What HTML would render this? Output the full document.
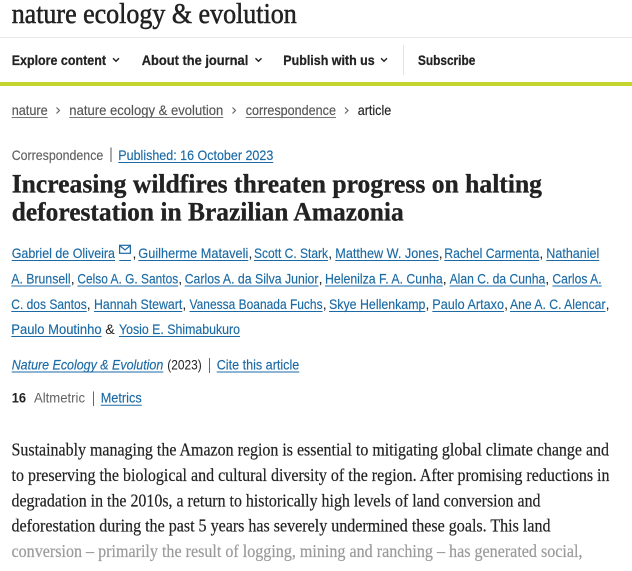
<!DOCTYPE html>
<html>
<head>
<meta charset="utf-8">
<style>
html,body{margin:0;padding:0;background:#fff;}
body{width:632px;height:571px;overflow:hidden;}
svg{display:block;}
.s{font-family:"Liberation Sans",Arial,sans-serif;}
.r{font-family:"Liberation Serif","Times New Roman",serif;}
</style>
</head>
<body>
<svg width="632" height="571" viewBox="0 0 632 571" xmlns="http://www.w3.org/2000/svg">
<rect width="632" height="571" fill="#fff"/>

<!-- Logo -->
<text class="r" x="11.7" y="23" font-size="29" fill="#222" stroke="#222" stroke-width="0.55" textLength="285" lengthAdjust="spacingAndGlyphs">nature ecology &amp; evolution</text>
<line x1="0" y1="37.5" x2="632" y2="37.5" stroke="#e9e9e9" stroke-width="1"/>

<!-- Nav -->
<g class="s" font-size="14" font-weight="bold" fill="#222" stroke="#222" stroke-width="0.25">
<text x="11.7" y="65" textLength="94.3" lengthAdjust="spacingAndGlyphs">Explore content</text>
<text x="141.7" y="65" textLength="106.6" lengthAdjust="spacingAndGlyphs">About the journal</text>
<text x="283.3" y="65" textLength="91.4" lengthAdjust="spacingAndGlyphs">Publish with us</text>
<text x="418" y="65" textLength="57.3" lengthAdjust="spacingAndGlyphs">Subscribe</text>
</g>
<g fill="none" stroke="#222" stroke-width="1.4">
<polyline points="113,58.3 116,61.3 119,58.3"/>
<polyline points="255.5,58.3 258.5,61.3 261.5,58.3"/>
<polyline points="381,58.3 384,61.3 387,58.3"/>
</g>
<line x1="403.5" y1="45" x2="403.5" y2="75" stroke="#e2e2e2" stroke-width="1"/>
<rect x="0" y="82" width="632" height="4" fill="#c6d42e"/>

<!-- Breadcrumb -->
<g class="s" font-size="14" fill="#555" stroke="#555" stroke-width="0.15">
<text x="11.7" y="115" textLength="36" lengthAdjust="spacingAndGlyphs">nature</text>
<text x="69.3" y="115" textLength="154" lengthAdjust="spacingAndGlyphs">nature ecology &amp; evolution</text>
<text x="245.7" y="115" textLength="90.3" lengthAdjust="spacingAndGlyphs">correspondence</text>
<text x="357.7" y="115" textLength="33.6" lengthAdjust="spacingAndGlyphs" fill="#222" stroke="#222">article</text>
</g>
<g stroke="#777" stroke-width="1">
<line x1="11.7" y1="117.5" x2="47.7" y2="117.5"/>
<line x1="69.3" y1="117.5" x2="223.3" y2="117.5"/>
<line x1="245.7" y1="117.5" x2="336" y2="117.5"/>
</g>
<g fill="none" stroke="#666" stroke-width="1.2">
<polyline points="56.5,107.5 59.5,110.5 56.5,113.5"/>
<polyline points="232.5,107.5 235.5,110.5 232.5,113.5"/>
<polyline points="345,107.5 348,110.5 345,113.5"/>
</g>

<!-- Type / date -->
<text class="s" x="11.7" y="160" font-size="14" fill="#626262" stroke="#626262" stroke-width="0.15" textLength="91.6" lengthAdjust="spacingAndGlyphs">Correspondence</text>
<line x1="111" y1="147.5" x2="111" y2="162" stroke="#555" stroke-width="1"/>
<text class="s" x="118.3" y="160" font-size="14" fill="#1b6aa5" stroke="#1b6aa5" stroke-width="0.15" textLength="155" lengthAdjust="spacingAndGlyphs">Published: 16 October 2023</text>
<line x1="118.3" y1="162.5" x2="273.3" y2="162.5" stroke="#1b6aa5" stroke-width="1"/>

<!-- Title -->
<g class="r" font-size="26" font-weight="bold" fill="#222" stroke="#222" stroke-width="0.3">
<text x="11.7" y="192.5" textLength="530.3" lengthAdjust="spacingAndGlyphs">Increasing wildfires threaten progress on halting</text>
<text x="11.7" y="220.5" textLength="392" lengthAdjust="spacingAndGlyphs">deforestation in Brazilian Amazonia</text>
</g>

<!-- Authors -->
<g class="s" font-size="14" fill="#1b6aa5" stroke="#1b6aa5" stroke-width="0.15">
<text x="11.7" y="258" textLength="103.3" lengthAdjust="spacingAndGlyphs">Gabriel de Oliveira</text>
<text x="138.3" y="258" textLength="110" lengthAdjust="spacingAndGlyphs">Guilherme Mataveli</text>
<text x="254" y="258" textLength="74" lengthAdjust="spacingAndGlyphs">Scott C. Stark</text>
<text x="335.3" y="258" textLength="103.4" lengthAdjust="spacingAndGlyphs">Matthew W. Jones</text>
<text x="444.3" y="258" textLength="95" lengthAdjust="spacingAndGlyphs">Rachel Carmenta</text>
<text x="546.3" y="258" textLength="53" lengthAdjust="spacingAndGlyphs">Nathaniel</text>

<text x="11.3" y="283.5" textLength="59.3" lengthAdjust="spacingAndGlyphs">A. Brunsell</text>
<text x="77.4" y="283.5" textLength="100.8" lengthAdjust="spacingAndGlyphs">Celso A. G. Santos</text>
<text x="184.7" y="283.5" textLength="133.8" lengthAdjust="spacingAndGlyphs">Carlos A. da Silva Junior</text>
<text x="325" y="283.5" textLength="117.7" lengthAdjust="spacingAndGlyphs">Helenilza F. A. Cunha</text>
<text x="449.6" y="283.5" textLength="95.6" lengthAdjust="spacingAndGlyphs">Alan C. da Cunha</text>
<text x="552.4" y="283.5" textLength="49.2" lengthAdjust="spacingAndGlyphs">Carlos A.</text>

<text x="11.3" y="309" textLength="75.4" lengthAdjust="spacingAndGlyphs">C. dos Santos</text>
<text x="94" y="309" textLength="88.3" lengthAdjust="spacingAndGlyphs">Hannah Stewart</text>
<text x="189.5" y="309" textLength="133.1" lengthAdjust="spacingAndGlyphs">Vanessa Boanada Fuchs</text>
<text x="329" y="309" textLength="96.4" lengthAdjust="spacingAndGlyphs">Skye Hellenkamp</text>
<text x="432.3" y="309" textLength="71.7" lengthAdjust="spacingAndGlyphs">Paulo Artaxo</text>
<text x="510" y="309" textLength="95.5" lengthAdjust="spacingAndGlyphs">Ane A. C. Alencar</text>

<text x="11.3" y="334" textLength="90.3" lengthAdjust="spacingAndGlyphs">Paulo Moutinho</text>
<text x="119" y="334" textLength="121" lengthAdjust="spacingAndGlyphs">Yosio E. Shimabukuro</text>
</g>
<!-- commas and & -->
<g class="s" font-size="14" fill="#222">
<text x="132.5" y="258">,</text>
<text x="248.5" y="258">,</text>
<text x="328.2" y="258">,</text>
<text x="438.8" y="258">,</text>
<text x="539.4" y="258">,</text>
<text x="70.7" y="283.5">,</text>
<text x="178.3" y="283.5">,</text>
<text x="318.6" y="283.5">,</text>
<text x="442.8" y="283.5">,</text>
<text x="545.3" y="283.5">,</text>
<text x="86.8" y="309">,</text>
<text x="182.4" y="309">,</text>
<text x="322.7" y="309">,</text>
<text x="425.5" y="309">,</text>
<text x="504.1" y="309">,</text>
<text x="605.6" y="309">,</text>
<text x="105.3" y="334" textLength="9.5" lengthAdjust="spacingAndGlyphs">&amp;</text>
</g>
<!-- envelope icon -->
<g fill="none" stroke="#1b6aa5" stroke-width="1.2">
<rect x="119.6" y="245.3" width="10.8" height="8"/>
<polyline points="119.6,245.5 125,250 130.4,245.5"/>
</g>
<!-- author underlines -->
<g stroke="#1b6aa5" stroke-width="1">
<line x1="11.7" y1="260.5" x2="115" y2="260.5"/>
<line x1="119.3" y1="260.5" x2="131" y2="260.5"/>
<line x1="138.3" y1="260.5" x2="248.3" y2="260.5"/>
<line x1="254" y1="260.5" x2="328" y2="260.5"/>
<line x1="335.3" y1="260.5" x2="438.7" y2="260.5"/>
<line x1="444.3" y1="260.5" x2="539.3" y2="260.5"/>
<line x1="546.3" y1="260.5" x2="599.3" y2="260.5"/>

<line x1="11.3" y1="286" x2="70.6" y2="286"/>
<line x1="77.4" y1="286" x2="178.2" y2="286"/>
<line x1="184.7" y1="286" x2="318.5" y2="286"/>
<line x1="325" y1="286" x2="442.7" y2="286"/>
<line x1="449.6" y1="286" x2="545.2" y2="286"/>
<line x1="552.4" y1="286" x2="601.6" y2="286"/>

<line x1="11.3" y1="311.5" x2="86.7" y2="311.5"/>
<line x1="94" y1="311.5" x2="182.3" y2="311.5"/>
<line x1="189.5" y1="311.5" x2="322.6" y2="311.5"/>
<line x1="329" y1="311.5" x2="425.4" y2="311.5"/>
<line x1="432.3" y1="311.5" x2="504" y2="311.5"/>
<line x1="510" y1="311.5" x2="605.5" y2="311.5"/>

<line x1="11.3" y1="336.5" x2="101.6" y2="336.5"/>
<line x1="119" y1="336.5" x2="240" y2="336.5"/>
</g>

<!-- Citation -->
<text class="s" x="11.7" y="369.5" font-size="14" font-style="italic" fill="#1b6aa5" stroke="#1b6aa5" stroke-width="0.15" textLength="151.6" lengthAdjust="spacingAndGlyphs">Nature Ecology &amp; Evolution</text>
<text class="s" x="167.3" y="369.5" font-size="14" fill="#222" textLength="34.4" lengthAdjust="spacingAndGlyphs">(2023)</text>
<line x1="209.5" y1="358" x2="209.5" y2="373" stroke="#666" stroke-width="1"/>
<text class="s" x="216.7" y="369.5" font-size="14" fill="#1b6aa5" stroke="#1b6aa5" stroke-width="0.15" textLength="82.6" lengthAdjust="spacingAndGlyphs">Cite this article</text>
<g stroke="#1b6aa5" stroke-width="1">
<line x1="11.7" y1="372" x2="163.3" y2="372"/>
<line x1="216.7" y1="372" x2="299.3" y2="372"/>
</g>

<!-- Altmetric -->
<text class="s" x="11.7" y="402.7" font-size="14" font-weight="bold" fill="#222" textLength="14.3" lengthAdjust="spacingAndGlyphs">16</text>
<text class="s" x="34" y="402.7" font-size="14" fill="#626262" textLength="51" lengthAdjust="spacingAndGlyphs">Altmetric</text>
<line x1="93.5" y1="391.5" x2="93.5" y2="406" stroke="#666" stroke-width="1"/>
<text class="s" x="100.7" y="402.7" font-size="14" fill="#1b6aa5" stroke="#1b6aa5" stroke-width="0.15" textLength="41" lengthAdjust="spacingAndGlyphs">Metrics</text>
<line x1="100.7" y1="405.3" x2="141.7" y2="405.3" stroke="#1b6aa5" stroke-width="1"/>

<!-- Body -->
<g class="r" font-size="18" fill="#222" stroke="#222" stroke-width="0.2">
<text x="11.5" y="455.7" textLength="597.5" lengthAdjust="spacingAndGlyphs">Sustainably managing the Amazon region is essential to mitigating global climate change and</text>
<text x="11.5" y="481" textLength="598" lengthAdjust="spacingAndGlyphs">to preserving the biological and cultural diversity of the region. After promising reductions in</text>
<text x="11.5" y="506.3" textLength="529" lengthAdjust="spacingAndGlyphs">degradation in the 2010s, a return to historically high levels of land conversion and</text>
<text x="11.5" y="531.5" textLength="539" lengthAdjust="spacingAndGlyphs">deforestation during the past 5 years has severely undermined these goals. This land</text>
<text x="11.5" y="556.8" textLength="571" lengthAdjust="spacingAndGlyphs" fill="#9a9a9a" stroke="#9a9a9a">conversion – primarily the result of logging, mining and ranching – has generated social,</text>
</g>
</svg>
</body>
</html>
